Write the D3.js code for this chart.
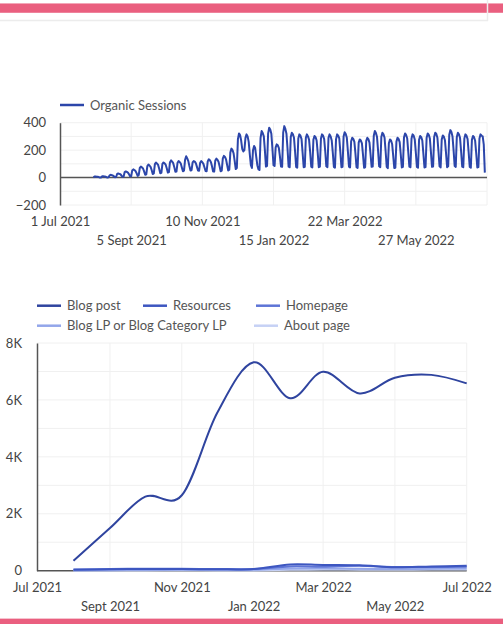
<!DOCTYPE html>
<html>
<head>
<meta charset="utf-8">
<script src="https://cdn.jsdelivr.net/npm/d3@7"></script>
<style>
  html, body { margin: 0; padding: 0; background: #fff; }
  svg { display: block; font-family: Lato, "Open Sans", sans-serif; }
</style>
</head>
<body>
<svg id="chart" width="503" height="624"></svg>
<script>
// ---- Organic sessions: daily values from 1 Aug 2021, one row per week (Sun..Sat)
const sessionsStart = "2021-08-01";
const organicSessions = [
  2, 7, 8, 6, 6, 3, 0,
  1, 9, 10, 8, 7, 4, 0,
  2, 16, 20, 18, 15, 9, 3,
  4, 26, 30, 27, 24, 15, 5,
  8, 40, 45, 41, 36, 24, 9,
  10, 52, 60, 55, 48, 32, 12,
  18, 70, 80, 74, 66, 45, 20,
  24, 84, 95, 88, 78, 55, 26,
  30, 98, 110, 102, 92, 64, 32,
  34, 100, 110, 104, 94, 68, 36,
  40, 112, 125, 116, 105, 76, 42,
  44, 108, 120, 114, 102, 74, 46,
  50, 130, 155, 140, 120, 84, 52,
  54, 110, 120, 116, 104, 78, 52,
  50, 108, 120, 112, 100, 74, 48,
  46, 118, 133, 126, 112, 80, 44,
  44, 124, 138, 130, 116, 82, 46,
  50, 140, 158, 150, 132, 92, 52,
  58, 185, 211, 200, 176, 120, 62,
  70, 280, 322, 310, 270, 210, 190,
  200, 290, 315, 300, 260, 170, 90,
  70, 200, 230, 215, 150, 90, 60,
  55, 290, 339, 325, 300, 200, 80,
  85, 320, 363, 350, 320, 210, 90,
  85, 220, 242, 235, 215, 150, 80,
  78, 330, 375, 355, 320, 210, 80,
  75, 295, 327, 315, 290, 190, 78,
  72, 285, 315, 305, 280, 180, 75,
  78, 290, 315, 300, 275, 185, 80,
  74, 275, 303, 295, 270, 180, 76,
  80, 285, 315, 305, 280, 190, 82,
  76, 290, 315, 300, 270, 180, 78,
  72, 280, 315, 306, 285, 185, 75,
  78, 300, 331, 318, 290, 190, 80,
  74, 265, 290, 282, 260, 175, 76,
  70, 255, 278, 270, 250, 165, 72,
  75, 268, 290, 280, 255, 170, 78,
  80, 305, 339, 325, 295, 195, 82,
  76, 295, 327, 315, 290, 190, 78,
  68, 250, 278, 270, 245, 160, 70,
  72, 262, 290, 282, 258, 170, 74,
  78, 292, 322, 310, 285, 185, 80,
  75, 285, 315, 305, 278, 182, 77,
  72, 275, 303, 295, 270, 175, 74,
  76, 290, 322, 312, 285, 186, 78,
  80, 296, 327, 318, 290, 190, 82,
  74, 278, 307, 298, 272, 178, 76,
  82, 312, 346, 332, 300, 200, 84,
  78, 295, 327, 316, 288, 190, 80,
  75, 285, 315, 305, 280, 182, 77,
  72, 275, 303, 294, 268, 176, 74,
  76, 285, 315, 305, 300, 240, 36
];
const sessionsTickDates = ["2021-07-01", "2021-09-05", "2021-11-10", "2022-01-15", "2022-03-22", "2022-05-27"];
const sessionsTickLabels = ["1 Jul 2021", "5 Sept 2021", "10 Nov 2021", "15 Jan 2022", "22 Mar 2022", "27 May 2022"];
const sessionsYTicks = [-200, 0, 200, 400];

// ---- Page-type sessions, monthly
const months = ["2021-08-01", "2021-09-01", "2021-10-01", "2021-11-01", "2021-12-01", "2022-01-01",
                "2022-02-01", "2022-03-01", "2022-04-01", "2022-05-01", "2022-06-01", "2022-07-01"];
const blogPost      = [350, 1500, 2600, 2650, 5540, 7320, 6060, 6990, 6230, 6780, 6880, 6580];
const resources     = [30, 50, 60, 60, 50, 60, 220, 200, 190, 120, 150, 170];
const homepage      = [40, 60, 70, 65, 60, 60, 150, 140, 170, 130, 130, 140];
const blogLP        = [10, 20, 25, 30, 25, 30, 80, 90, 70, 60, 70, 80];
const aboutPage     = [5, 10, 10, 15, 10, 10, 30, 40, 35, 30, 40, 40];
const pageSeriesNames  = ["Blog post", "Resources", "Homepage", "Blog LP or Blog Category LP", "About page"];
const pageSeriesColors = ["#2f449f", "#3d56c0", "#5d74d6", "#93a6ea", "#c6d1f5"];
const pageTickDates  = ["2021-07-01", "2021-09-01", "2021-11-01", "2022-01-01", "2022-03-01", "2022-05-01", "2022-07-01"];
const pageTickLabels = ["Jul 2021", "Sept 2021", "Nov 2021", "Jan 2022", "Mar 2022", "May 2022", "Jul 2022"];
const pageYTicks = [0, 2000, 4000, 6000, 8000];
const pageYLabels = ["0", "2K", "4K", "6K", "8K"];

const svg = d3.select("#chart");
const parse = d3.utcParse("%Y-%m-%d");
const TEXT = "#444";
const GRID = "#f0f0f0";
const AXIS = "#555";

// ---- page frame: pink bands and card edge
svg.append("rect").attr("x", 0).attr("y", 3).attr("width", 503).attr("height", 10).attr("fill", "#f3a7b8");
svg.append("rect").attr("x", 0).attr("y", 4).attr("width", 503).attr("height", 8.5).attr("fill", "#ea5f7f");
svg.append("line").attr("x1", 0).attr("x2", 488).attr("y1", 20.5).attr("y2", 20.5).attr("stroke", "#ececec").attr("stroke-width", 1.5);
svg.append("line").attr("x1", 487.5).attr("x2", 487.5).attr("y1", 0).attr("y2", 21).attr("stroke", "#ececec").attr("stroke-width", 1.5);
svg.append("rect").attr("x", 0).attr("y", 618).attr("width", 503).attr("height", 1).attr("fill", "#f6c3cf");
svg.append("rect").attr("x", 0).attr("y", 619).attr("width", 503).attr("height", 5).attr("fill", "#ea5f7f");

// =================== Chart 1: Organic Sessions ===================
{
  const x = d3.scaleUtc().domain([parse("2021-07-01"), parse("2022-08-01")]).range([60, 487]);
  const y = d3.scaleLinear().domain([-200, 400]).range([205, 122.7]);
  const start = parse(sessionsStart);
  const data = organicSessions.map((v, i) => ({ date: d3.utcDay.offset(start, i), value: v }));

  const g = svg.append("g");
  // horizontal grid every 100
  g.selectAll(".hg").data(d3.range(-200, 401, 100)).join("line")
    .attr("x1", 60).attr("x2", 487).attr("y1", d => y(d)).attr("y2", d => y(d))
    .attr("stroke", GRID).attr("stroke-width", 1);
  // vertical grid at ticks + right edge
  g.selectAll(".vg").data(sessionsTickDates.slice(1).map(parse).concat([parse("2022-08-01")])).join("line")
    .attr("x1", d => x(d)).attr("x2", d => x(d)).attr("y1", 122.7).attr("y2", 205)
    .attr("stroke", GRID).attr("stroke-width", 1);

  // y axis
  const yAxis = d3.axisLeft(y).tickValues(sessionsYTicks).tickSize(0).tickPadding(14);
  const ya = g.append("g").attr("transform", "translate(60,0)").call(yAxis);
  ya.select(".domain").attr("stroke", AXIS).attr("stroke-width", 1.5);
  ya.selectAll("text").attr("fill", TEXT).style("font-size", "13px").style("font-family", "Lato");

  // zero line
  g.append("line").attr("x1", 60).attr("x2", 487).attr("y1", y(0)).attr("y2", y(0))
    .attr("stroke", AXIS).attr("stroke-width", 1.5);

  // x axis labels, staggered in two rows
  const xAxis = d3.axisBottom(x).tickValues(sessionsTickDates.map(parse))
    .tickFormat((d, i) => sessionsTickLabels[i]).tickSize(0);
  const xa = g.append("g").attr("transform", "translate(0,205)").call(xAxis);
  xa.select(".domain").remove();
  xa.selectAll("text").attr("fill", TEXT).style("font-size", "13px").style("font-family", "Lato")
    .attr("y", (d, i) => i % 2 === 0 ? 12 : 31).attr("dy", "0.71em");

  // the series
  g.append("path").datum(data)
    .attr("fill", "none").attr("stroke", "#2c46aa").attr("stroke-width", 2).attr("stroke-linejoin", "round")
    .attr("d", d3.line().x(d => x(d.date)).y(d => y(d.value)));

  // legend
  g.append("line").attr("x1", 60).attr("x2", 84).attr("y1", 105).attr("y2", 105)
    .attr("stroke", "#2c46aa").attr("stroke-width", 2.5);
  g.append("text").attr("x", 90).attr("y", 105).attr("dy", "0.35em")
    .attr("fill", "#555").style("font-size", "13px").text("Organic Sessions");
}

// =================== Chart 2: sessions by page type ===================
{
  const x = d3.scaleUtc().domain([parse("2021-07-01"), parse("2022-07-01")]).range([37, 466.7]);
  const y = d3.scaleLinear().domain([0, 8000]).range([570.7, 343]);
  const dates = months.map(parse);
  const seriesValues = [blogPost, resources, homepage, blogLP, aboutPage];

  const g = svg.append("g");
  g.selectAll(".hg").data(d3.range(1000, 8001, 1000)).join("line")
    .attr("x1", 37).attr("x2", 466.7).attr("y1", d => y(d)).attr("y2", d => y(d))
    .attr("stroke", GRID).attr("stroke-width", 1);
  g.selectAll(".vg").data(pageTickDates.slice(1).map(parse)).join("line")
    .attr("x1", d => x(d)).attr("x2", d => x(d)).attr("y1", 343).attr("y2", 570.7)
    .attr("stroke", GRID).attr("stroke-width", 1);

  const yAxis = d3.axisLeft(y).tickValues(pageYTicks).tickFormat((d, i) => pageYLabels[i]).tickSize(0).tickPadding(15);
  const ya = g.append("g").attr("transform", "translate(37,0)").call(yAxis);
  ya.select(".domain").attr("stroke", AXIS).attr("stroke-width", 1.5);
  ya.selectAll("text").attr("fill", TEXT).style("font-size", "13px").style("font-family", "Lato");

  g.append("line").attr("x1", 37).attr("x2", 466.7).attr("y1", y(0)).attr("y2", y(0))
    .attr("stroke", AXIS).attr("stroke-width", 1.5);

  const xAxis = d3.axisBottom(x).tickValues(pageTickDates.map(parse))
    .tickFormat((d, i) => pageTickLabels[i]).tickSize(0);
  const xa = g.append("g").attr("transform", "translate(0,570.7)").call(xAxis);
  xa.select(".domain").remove();
  xa.selectAll("text").attr("fill", TEXT).style("font-size", "13px").style("font-family", "Lato")
    .attr("y", (d, i) => i % 2 === 0 ? 12 : 31).attr("dy", "0.71em");

  const line = d3.line().curve(d3.curveCatmullRom.alpha(0)).x((d, i) => x(dates[i])).y(d => y(d));
  // draw lightest first so Blog post sits on top
  for (let s = seriesValues.length - 1; s >= 0; s--) {
    g.append("path").datum(seriesValues[s])
      .attr("fill", "none").attr("stroke", pageSeriesColors[s]).attr("stroke-width", 2)
      .attr("d", line);
  }

  // legend
  const legendItems = [
    { name: pageSeriesNames[0], color: pageSeriesColors[0], x: 37,  y: 305.7 },
    { name: pageSeriesNames[1], color: pageSeriesColors[1], x: 143, y: 305.7 },
    { name: pageSeriesNames[2], color: pageSeriesColors[2], x: 256, y: 305.7 },
    { name: pageSeriesNames[3], color: pageSeriesColors[3], x: 37,  y: 325.7 },
    { name: pageSeriesNames[4], color: pageSeriesColors[4], x: 254, y: 325.7 }
  ];
  const lg = g.selectAll(".lg").data(legendItems).join("g").attr("transform", d => `translate(${d.x},${d.y})`);
  lg.append("line").attr("x1", 0).attr("x2", 24).attr("stroke", d => d.color).attr("stroke-width", 2.5);
  lg.append("text").attr("x", 30).attr("dy", "0.35em").attr("fill", "#555").style("font-size", "13px").text(d => d.name);
}
</script>
</body>
</html>
